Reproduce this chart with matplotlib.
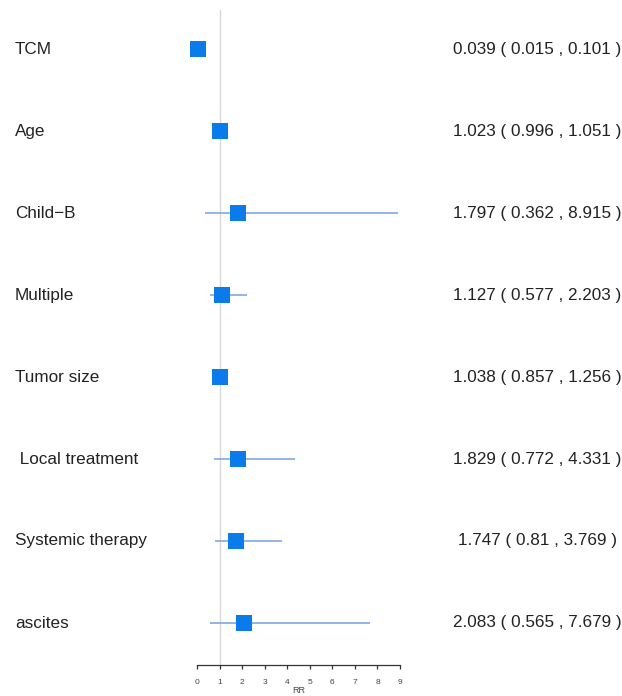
import matplotlib.pyplot as plt
import matplotlib.transforms as mtransforms
import numpy as np

plt.rcParams['font.family'] = ['Liberation Sans', 'DejaVu Sans']

labels = ['TCM', 'Age', 'Child\u2212B', 'Multiple', 'Tumor size',
          ' Local treatment', 'Systemic therapy', 'ascites']
rr = [0.039, 1.023, 1.797, 1.127, 1.038, 1.829, 1.747, 2.083]
lower = [0.015, 0.996, 0.362, 0.577, 0.857, 0.772, 0.81, 0.565]
upper = [0.101, 1.051, 8.915, 2.203, 1.256, 4.331, 3.769, 7.679]
rr_txt = ['0.039', '1.023', '1.797', '1.127', '1.038', '1.829', '1.747', '2.083']
lo_txt = ['0.015', '0.996', '0.362', '0.577', '0.857', '0.772', '0.81', '0.565']
up_txt = ['0.101', '1.051', '8.915', '2.203', '1.256', '4.331', '3.769', '7.679']
xticks = [0, 1, 2, 3, 4, 5, 6, 7, 8, 9]

W, H = 622, 696
fig = plt.figure(figsize=(W / 100, H / 100), dpi=100)
# axes spans x 0..9 -> px 197..400, y from px 10 down to axis line at 665
ax = fig.add_axes([197 / W, (H - 665) / H, 203 / W, 655 / H])

n = len(labels)
ypos = np.arange(n, 0, -1)
# rows at px 49 .. 623, 82 px apart
pad_top = (49 - 10) / 82
pad_bot = (665 - 623) / 82

ax.axvline(1, color='#d8d8dc', lw=1, zorder=1)
ax.hlines(ypos, lower, upper, color='#7fa8e2', lw=1.2, zorder=2)
ax.scatter(rr, ypos, marker='s', s=16 ** 2 * 0.52, color='#0a7be8', zorder=3,
           linewidths=0, clip_on=False)

ax.set_xlim(0, 9)
ax.set_ylim(1 - pad_bot, n + pad_top)
for s in ['left', 'right', 'top']:
    ax.spines[s].set_visible(False)
ax.spines['bottom'].set_color('#333333')
ax.spines['bottom'].set_linewidth(0.9)
ax.set_yticks([])
ax.set_xticks(xticks)
ax.tick_params(axis='x', direction='out', length=3, width=0.9, color='#333333',
               labelsize=6, labelcolor='#444444', pad=7)
ax.set_xlabel('RR', fontsize=6.5, color='#444444', labelpad=0)

trans = mtransforms.blended_transform_factory(fig.transFigure, ax.transData)
for i, y in enumerate(ypos):
    fig.text(15 / W, y, labels[i], transform=trans, ha='left', va='center',
             fontsize=12.3, color='#222222')
    fig.text(537 / W, y, '%s ( %s , %s )' % (rr_txt[i], lo_txt[i], up_txt[i]),
             transform=trans, ha='center', va='center', fontsize=12.3, color='#222222')

fig.savefig('out.png', dpi=100)
